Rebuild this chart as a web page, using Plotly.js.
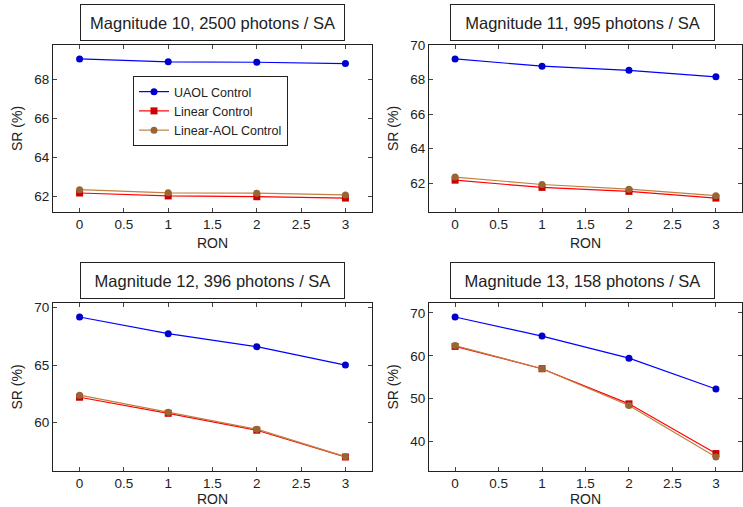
<!DOCTYPE html>
<html>
<head>
<meta charset="utf-8">
<script src="https://cdn.plot.ly/plotly-3.0.1.min.js"></script>
<style>html,body{margin:0;padding:0;background:#fff;}#chart{width:743px;height:507px;}</style>
</head>
<body>
<div id="chart"></div>
<script>
// ---- data ----
const ron = [0, 1, 2, 3];
const seriesNames = ["UAOL Control", "Linear Control", "Linear-AOL Control"];
const panelTitles = [
  "Magnitude 10, 2500 photons / SA",
  "Magnitude 11, 995 photons / SA",
  "Magnitude 12, 396 photons / SA",
  "Magnitude 13, 158 photons / SA"
];
const mag10_uaol   = [69.05, 68.90, 68.88, 68.81];
const mag10_linear = [62.19, 62.04, 62.00, 61.93];
const mag10_linaol = [62.36, 62.20, 62.18, 62.09];
const mag11_uaol   = [69.21, 68.79, 68.55, 68.17];
const mag11_linear = [62.17, 61.75, 61.52, 61.13];
const mag11_linaol = [62.35, 61.92, 61.65, 61.27];
const mag12_uaol   = [69.18, 67.73, 66.60, 65.00];
const mag12_linear = [62.20, 60.80, 59.33, 57.00];
const mag12_linaol = [62.38, 60.90, 59.42, 57.03];
const mag13_uaol   = [69.06, 64.60, 59.45, 52.26];
const mag13_linear = [62.20, 57.00, 48.80, 37.20];
const mag13_linaol = [62.40, 57.00, 48.40, 36.40];
const xTicks = [0, 0.5, 1, 1.5, 2, 2.5, 3];
const yTicks = [[62, 64, 66, 68], [62, 64, 66, 68, 70], [60, 65, 70], [40, 50, 60, 70]];

// ---- styling ----
const panels = [
  [mag10_uaol, mag10_linear, mag10_linaol],
  [mag11_uaol, mag11_linear, mag11_linaol],
  [mag12_uaol, mag12_linear, mag12_linaol],
  [mag13_uaol, mag13_linear, mag13_linaol]
];
const lineColors = ["#0000ff", "#ff0000", "#bf8040"];
const markColors = ["#0000cc", "#cc0000", "#996633"];
const symbols = ["circle", "square", "circle"];
const msizes = [7, 7, 7];
const W = 743, H = 507;
const font = "Liberation Sans, Arial, sans-serif";
const txt = "#222";

// pixel boxes of plot areas [left, right, top, bottom]
const boxes = [[53, 372, 45, 212], [429, 742, 45, 212], [53, 372, 303, 471], [429, 742, 303, 471]];

const traces = [];
const layout = {
  width: W, height: H,
  margin: {l: 0, r: 0, t: 0, b: 0},
  paper_bgcolor: "#fff", plot_bgcolor: "#fff",
  font: {family: font, size: 13, color: txt},
  showlegend: true,
  legend: {
    x: 133 / W, y: 1 - 76 / H, xanchor: "left", yanchor: "top",
    bordercolor: "#222", borderwidth: 1, bgcolor: "#fff",
    font: {family: font, size: 12.5, color: txt},
    tracegroupgap: 0, itemwidth: 30
  },
  annotations: []
};

panels.forEach((series, p) => {
  const ax = p === 0 ? "" : String(p + 1);
  const [l, r, t, b] = boxes[p];
  const all = series.flat();
  const mn = Math.min(...all), mx = Math.max(...all);
  const pad = 0.1 * (mx - mn);
  layout["xaxis" + ax] = {
    domain: [l / W, r / W], anchor: "y" + ax,
    range: [-0.3, 3.3], tickvals: xTicks, ticktext: xTicks.map(String),
    showline: true, linecolor: "#222", linewidth: 1, mirror: "ticks",
    ticks: "inside", ticklen: 4, tickcolor: "#444", showgrid: false, zeroline: false,
    tickfont: {family: font, size: 13.5, color: txt},
    title: {text: "RON", font: {family: font, size: 14, color: txt}, standoff: 6},
    fixedrange: true
  };
  layout["yaxis" + ax] = {
    domain: [1 - b / H, 1 - t / H], anchor: "x" + ax,
    range: [mn - pad, mx + pad], tickvals: yTicks[p], ticktext: yTicks[p].map(String),
    showline: true, linecolor: "#222", linewidth: 1, mirror: "ticks",
    ticks: "inside", ticklen: 4, tickcolor: "#444", showgrid: false, zeroline: false,
    tickfont: {family: font, size: 13.5, color: txt},
    title: {text: "SR (%)", font: {family: font, size: 14, color: txt}, standoff: 8},
    fixedrange: true
  };
  series.forEach((vals, s) => {
    traces.push({
      type: "scatter", mode: "lines+markers",
      x: ron, y: vals, name: seriesNames[s],
      xaxis: "x" + ax, yaxis: "y" + ax,
      showlegend: p === 0, legendgroup: seriesNames[s],
      line: {color: lineColors[s], width: 1.2},
      marker: {color: markColors[s], symbol: symbols[s], size: msizes[s],
               line: {color: markColors[s], width: 0}},
      cliponaxis: false
    });
  });
  layout.annotations.push({
    text: panelTitles[p], xref: "paper", yref: "paper",
    x: ((l + r) / 2 - (p % 2 ? 3 : 0)) / W, y: 1 - (t - 22.5) / H,
    xanchor: "center", yanchor: "middle", showarrow: false,
    font: {family: font, size: 16.5, color: txt},
    bordercolor: "#222", borderwidth: 1, borderpad: 2,
    width: 259, height: 31, bgcolor: "#fff"
  });
});

Plotly.newPlot("chart", traces, layout, {displayModeBar: false, staticPlot: true});
</script>
</body>
</html>
